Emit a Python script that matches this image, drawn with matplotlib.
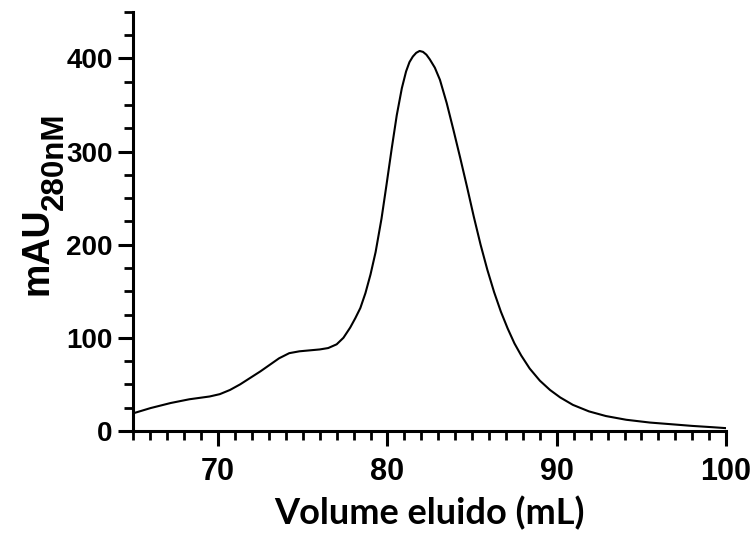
import matplotlib
matplotlib.use("Agg")
import matplotlib.pyplot as plt
from matplotlib.ticker import MultipleLocator

# Cromatograma
volume_ml = [65.0, 66.0, 67.2, 68.3, 69.5, 70.1, 70.7, 71.3, 72.5, 73.6,
             74.2, 74.8, 76.0, 76.5, 77.0, 77.4, 77.8, 78.1, 78.4, 78.7,
             79.0, 79.3, 79.65, 79.95, 80.25, 80.55, 80.85, 81.1, 81.3, 81.5,
             81.7, 81.9, 82.1, 82.3, 82.5, 82.8, 83.1, 83.5, 83.9, 84.3,
             84.7, 85.1, 85.5, 85.9, 86.3, 86.7, 87.1, 87.5, 87.9, 88.4,
             89.0, 89.6, 90.2, 90.95, 91.9, 92.9, 94.1, 95.5, 96.9, 98.0,
             99.2, 100.0]
mau_280 = [19, 24.5, 30, 34, 37, 39.5, 44, 50, 64, 78,
           83.5, 85.5, 87.5, 89, 93, 100, 111, 121, 132, 148,
           168, 192, 228, 265, 303, 339, 368, 386, 396, 402,
           406, 408, 407, 404, 399, 390, 377, 352, 323, 293,
           262, 230, 200, 173, 149, 128, 110, 94, 81, 67,
           54, 44, 36, 28, 21, 16, 12, 9, 7, 5.4,
           4, 3]

x_major = [70, 80, 90, 100]
y_major = [0, 100, 200, 300, 400]

plt.rcParams['font.family'] = ['Liberation Sans', 'DejaVu Sans']

fig = plt.figure(figsize=(7.54, 5.38), dpi=100)
ax = fig.add_axes([0.177, 0.199, 0.786, 0.779])

ax.plot(volume_ml, mau_280, color='black', linewidth=1.5)

ax.set_xlim(65, 100)
ax.set_ylim(0, 450)
ax.set_xticks(x_major)
ax.set_yticks(y_major)
ax.xaxis.set_minor_locator(MultipleLocator(1))
ax.yaxis.set_minor_locator(MultipleLocator(25))

for side in ['top', 'right']:
    ax.spines[side].set_visible(False)
for side in ['left', 'bottom']:
    ax.spines[side].set_linewidth(2.2)

ax.tick_params(which='major', direction='out', length=11, width=2.2)
ax.tick_params(which='minor', direction='out', length=6.5, width=2.0)
ax.tick_params(axis='x', which='major', labelsize=22, pad=8)
ax.tick_params(axis='y', which='major', labelsize=20, pad=4)
for lbl in ax.get_xticklabels() + ax.get_yticklabels():
    lbl.set_fontweight('bold')

ax.set_xlabel('Volume eluido (mL)', fontsize=26, fontweight='bold',
              family=['Lato', 'DejaVu Sans'], labelpad=6)

# etiqueta del eje y: "mAU" con subíndice "280nM"
fig.text(37 / 754, 1 - 295 / 538, 'mAU', rotation=90, fontsize=27,
         fontweight='bold', ha='center', va='bottom')
fig.text(55 / 754, 1 - 210 / 538, '280nM', rotation=90, fontsize=22.5,
         fontweight='bold', ha='center', va='bottom')

fig.savefig('out.png', dpi=100)
